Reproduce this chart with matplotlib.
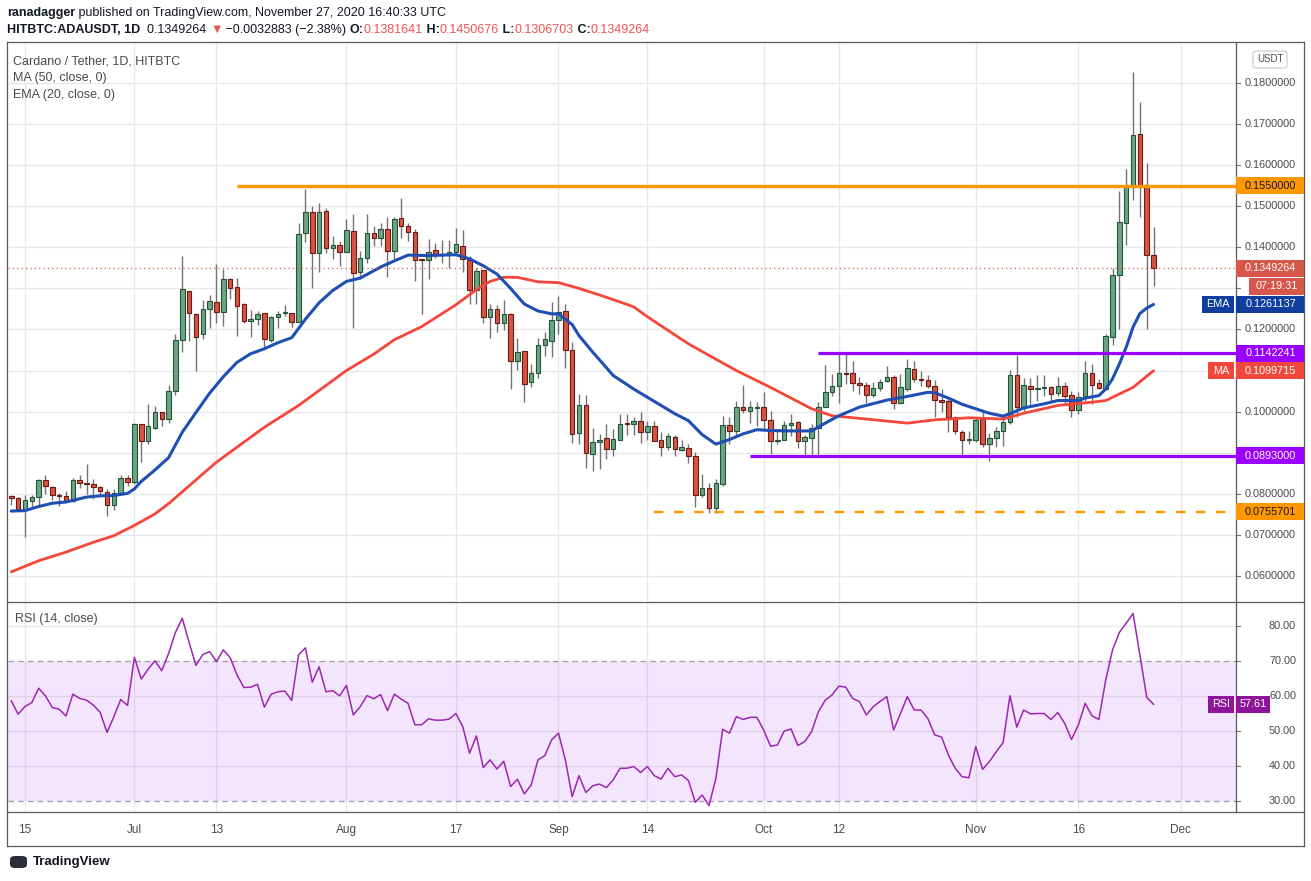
import matplotlib
matplotlib.use("Agg")
import matplotlib.pyplot as plt
import matplotlib.transforms as mtransforms
from matplotlib.patches import Rectangle, FancyBboxPatch
from matplotlib.lines import Line2D
import numpy as np
import pandas as pd

plt.rcParams['font.family'] = ['Liberation Sans', 'DejaVu Sans']

# ---- values: HITBTC ADA/USDT daily, from 13 Jun 2020 ----
start_day = "2020-06-13"

opens = [
    0.0795, 0.0790, 0.0761, 0.0783, 0.0793, 0.0834, 0.0816, 0.0798, 0.0794, 0.0783,
    0.0834, 0.0827, 0.0824, 0.0816, 0.0805, 0.0773, 0.0802, 0.0839, 0.0829, 0.0969,
    0.0929, 0.0960, 0.1000, 0.0983, 0.1050, 0.1175, 0.1294, 0.1238, 0.1189, 0.1250,
    0.1267, 0.1243, 0.1324, 0.1304, 0.1263, 0.1221, 0.1226, 0.1241, 0.1175, 0.1230,
    0.1240, 0.1241, 0.1219, 0.1436, 0.1485, 0.1387, 0.1489, 0.1398, 0.1406, 0.1389,
    0.1440, 0.1340, 0.1374, 0.1435, 0.1422, 0.1445, 0.1391, 0.1472, 0.1452, 0.1437,
    0.1369, 0.1369, 0.1393, 0.1381, 0.1381, 0.1389, 0.1403, 0.1369, 0.1296, 0.1345,
    0.1231, 0.1251, 0.1215, 0.1237, 0.1124, 0.1147, 0.1072, 0.1093, 0.1163, 0.1173,
    0.1224, 0.1246, 0.1149, 0.0948, 0.1017, 0.0897, 0.0927, 0.0937, 0.0910, 0.0932,
    0.0971, 0.0971, 0.0976, 0.0950, 0.0966, 0.0931, 0.0913, 0.0938, 0.0906, 0.0911,
    0.0892, 0.0797, 0.0814, 0.0765, 0.0824, 0.0967, 0.0952, 0.1012, 0.1001, 0.1009,
    0.1012, 0.0980, 0.0928, 0.0931, 0.0968, 0.0975, 0.0929, 0.0936, 0.0960, 0.1012,
    0.1047, 0.1063, 0.1094, 0.1094, 0.1070, 0.1065, 0.1041, 0.1058, 0.1075, 0.1085,
    0.1021, 0.1056, 0.1104, 0.1080, 0.1077, 0.1063, 0.1028, 0.1027, 0.0987, 0.0951,
    0.0930, 0.0930, 0.0982, 0.0921, 0.0936, 0.0953, 0.0975, 0.1089, 0.1008, 0.1063,
    0.1055, 0.1058, 0.1060, 0.1045, 0.1063, 0.1041, 0.1004, 0.1038, 0.1094, 0.1070,
    0.1055, 0.1182, 0.1333, 0.1458, 0.1546, 0.1676, 0.1551, 0.1381641]

highs = [
    0.0797, 0.0791, 0.0798, 0.0798, 0.0837, 0.0845, 0.0818, 0.0802, 0.0808, 0.0839,
    0.0845, 0.0872, 0.0835, 0.0818, 0.0812, 0.0812, 0.0845, 0.0846, 0.0972, 0.0969,
    0.1019, 0.1013, 0.1000, 0.1065, 0.1189, 0.1380, 0.1294, 0.1240, 0.1271, 0.1283,
    0.1359, 0.1348, 0.1326, 0.1326, 0.1265, 0.1248, 0.1245, 0.1241, 0.1233, 0.1244,
    0.1259, 0.1241, 0.1459, 0.1543, 0.1500, 0.1507, 0.1496, 0.1428, 0.1415, 0.1470,
    0.1482, 0.1390, 0.1482, 0.1453, 0.1458, 0.1474, 0.1474, 0.1520, 0.1459, 0.1445,
    0.1369, 0.1420, 0.1411, 0.1419, 0.1419, 0.1447, 0.1441, 0.1380, 0.1350, 0.1345,
    0.1262, 0.1260, 0.1272, 0.1241, 0.1180, 0.1147, 0.1115, 0.1180, 0.1194, 0.1267,
    0.1281, 0.1263, 0.1170, 0.1042, 0.1040, 0.0959, 0.0945, 0.0969, 0.0957, 0.0995,
    0.0995, 0.0987, 0.0999, 0.0978, 0.0978, 0.0950, 0.0947, 0.0944, 0.0931, 0.0921,
    0.0901, 0.0848, 0.0826, 0.0836, 0.0990, 0.0986, 0.1027, 0.1066, 0.1027, 0.1024,
    0.1047, 0.1002, 0.0954, 0.0978, 0.0994, 0.0978, 0.0944, 0.0970, 0.1024, 0.1114,
    0.1092, 0.1141, 0.1142, 0.1123, 0.1084, 0.1072, 0.1072, 0.1080, 0.1110, 0.1090,
    0.1092, 0.1127, 0.1124, 0.1098, 0.1088, 0.1076, 0.1055, 0.1031, 0.0987, 0.0955,
    0.0954, 0.0985, 0.1002, 0.0947, 0.0962, 0.0994, 0.1102, 0.1137, 0.1082, 0.1082,
    0.1090, 0.1088, 0.1063, 0.1084, 0.1072, 0.1051, 0.1049, 0.1124, 0.1116, 0.1080,
    0.1189, 0.1349, 0.1537, 0.1591, 0.1827, 0.1753, 0.1605, 0.1450676]

lows = [
    0.0772, 0.0760, 0.0694, 0.0767, 0.0772, 0.0800, 0.0785, 0.0770, 0.0780, 0.0781,
    0.0815, 0.0800, 0.0788, 0.0796, 0.0746, 0.0761, 0.0802, 0.0819, 0.0824, 0.0877,
    0.0922, 0.0957, 0.0966, 0.0972, 0.1040, 0.1146, 0.1173, 0.1100, 0.1176, 0.1203,
    0.1215, 0.1208, 0.1274, 0.1184, 0.1216, 0.1181, 0.1211, 0.1153, 0.1169, 0.1203,
    0.1233, 0.1206, 0.1219, 0.1413, 0.1300, 0.1340, 0.1385, 0.1372, 0.1355, 0.1389,
    0.1203, 0.1323, 0.1362, 0.1404, 0.1404, 0.1327, 0.1372, 0.1423, 0.1415, 0.1317,
    0.1237, 0.1323, 0.1374, 0.1363, 0.1350, 0.1382, 0.1339, 0.1263, 0.1262, 0.1215,
    0.1180, 0.1194, 0.1198, 0.1054, 0.1102, 0.1024, 0.1060, 0.1081, 0.1135, 0.1132,
    0.1190, 0.1107, 0.0924, 0.0922, 0.0863, 0.0855, 0.0861, 0.0885, 0.0892, 0.0932,
    0.0944, 0.0944, 0.0924, 0.0932, 0.0929, 0.0893, 0.0907, 0.0893, 0.0903, 0.0874,
    0.0769, 0.0791, 0.0754, 0.0754, 0.0820, 0.0921, 0.0941, 0.0996, 0.0972, 0.0966,
    0.0958, 0.0897, 0.0921, 0.0931, 0.0941, 0.0911, 0.0890, 0.0893, 0.0893, 0.1012,
    0.1039, 0.1020, 0.1067, 0.1050, 0.1043, 0.1021, 0.1035, 0.1051, 0.1072, 0.1007,
    0.1019, 0.1050, 0.1072, 0.1063, 0.1058, 0.0988, 0.0998, 0.0950, 0.0946, 0.0889,
    0.0921, 0.0925, 0.0913, 0.0880, 0.0915, 0.0917, 0.0970, 0.0988, 0.0998, 0.1012,
    0.1025, 0.1039, 0.1027, 0.1037, 0.1017, 0.0986, 0.0994, 0.1025, 0.1019, 0.1055,
    0.1053, 0.1162, 0.1200, 0.1406, 0.1514, 0.1475, 0.1200, 0.1306703]

closes = [
    0.0790, 0.0763, 0.0784, 0.0793, 0.0834, 0.0820, 0.0798, 0.0794, 0.0782, 0.0834,
    0.0827, 0.0824, 0.0816, 0.0807, 0.0773, 0.0802, 0.0839, 0.0829, 0.0969, 0.0929,
    0.0964, 0.1000, 0.0983, 0.1050, 0.1175, 0.1298, 0.1240, 0.1181, 0.1251, 0.1270,
    0.1243, 0.1322, 0.1302, 0.1258, 0.1221, 0.1226, 0.1238, 0.1177, 0.1231, 0.1238,
    0.1241, 0.1219, 0.1433, 0.1485, 0.1385, 0.1485, 0.1398, 0.1406, 0.1389, 0.1442,
    0.1337, 0.1374, 0.1435, 0.1422, 0.1445, 0.1391, 0.1469, 0.1451, 0.1437, 0.1369,
    0.1368, 0.1389, 0.1384, 0.1384, 0.1389, 0.1408, 0.1372, 0.1296, 0.1342, 0.1230,
    0.1251, 0.1215, 0.1237, 0.1124, 0.1144, 0.1068, 0.1093, 0.1163, 0.1176, 0.1224,
    0.1243, 0.1149, 0.0946, 0.1017, 0.0900, 0.0927, 0.0932, 0.0910, 0.0934, 0.0971,
    0.0970, 0.0976, 0.0950, 0.0966, 0.0929, 0.0913, 0.0941, 0.0908, 0.0914, 0.0891,
    0.0797, 0.0814, 0.0765, 0.0826, 0.0967, 0.0952, 0.1012, 0.1004, 0.1012, 0.1012,
    0.0980, 0.0928, 0.0931, 0.0967, 0.0972, 0.0928, 0.0938, 0.0960, 0.1012, 0.1049,
    0.1063, 0.1094, 0.1092, 0.1070, 0.1065, 0.1041, 0.1058, 0.1072, 0.1085, 0.1021,
    0.1060, 0.1106, 0.1080, 0.1077, 0.1063, 0.1028, 0.1024, 0.0988, 0.0953, 0.0931,
    0.0931, 0.0980, 0.0921, 0.0936, 0.0954, 0.0975, 0.1089, 0.1011, 0.1065, 0.1055,
    0.1058, 0.1060, 0.1043, 0.1063, 0.1038, 0.1004, 0.1036, 0.1094, 0.1065, 0.1058,
    0.1183, 0.1333, 0.1461, 0.1547, 0.1673, 0.1550, 0.1382147, 0.1349264]

# 50-day MA and 20-day EMA, read at vertices (day offset, value)
ma_day = [0, 4, 8, 12, 15, 18, 21, 23, 30, 37, 42, 49, 53, 56, 60, 65, 68, 70, 72, 74,
          77, 80, 83, 86, 89, 91, 93, 99, 106, 111, 117, 120, 125, 131, 135, 140, 145,
          148, 153, 158, 160, 164, 167]
ma_val = [0.0610, 0.0637, 0.0658, 0.0682, 0.0698, 0.0723, 0.0751, 0.0776, 0.0877, 0.0962,
          0.1015, 0.1100, 0.1140, 0.1175, 0.1207, 0.1260, 0.1297, 0.1317, 0.1327, 0.1327,
          0.1316, 0.1314, 0.1300, 0.1284, 0.1267, 0.1255, 0.1231, 0.1165, 0.1100, 0.1059,
          0.1007, 0.0990, 0.0982, 0.0972, 0.0980, 0.0985, 0.0982, 0.0996, 0.1015, 0.1023,
          0.1027, 0.1059, 0.1099715]

ema_day = [0, 2, 4, 6, 8, 11, 13, 15, 17, 18, 19, 21, 23, 25, 27, 29, 31, 33, 35, 37,
           39, 41, 43, 45, 47, 49, 51, 54, 56, 58, 61, 65, 67, 69, 71, 73, 75, 77, 79, 80,
           82, 83, 85, 88, 91, 93, 95, 97, 99, 101, 103, 105, 107, 109, 111, 114, 117, 119,
           121, 124, 128, 131, 134, 135, 137, 139, 141, 143, 145, 146, 148, 151, 153, 156,
           157, 159, 160, 161, 162, 163, 164, 165, 166, 167]
ema_val = [0.0758, 0.0759, 0.0769, 0.0777, 0.0780, 0.0792, 0.0795, 0.0796, 0.0801, 0.0812,
           0.0830, 0.0858, 0.0888, 0.0950, 0.0998, 0.1045, 0.1085, 0.1120, 0.1141, 0.1153,
           0.1168, 0.1180, 0.1225, 0.1265, 0.1295, 0.1317, 0.1325, 0.1352, 0.1367, 0.1381,
           0.1380, 0.1382, 0.1372, 0.1355, 0.1335, 0.1300, 0.1262, 0.1245, 0.1238, 0.1238,
           0.1212, 0.1185, 0.1145, 0.1088, 0.1055, 0.1035, 0.1015, 0.0995, 0.0978, 0.0944,
           0.0921, 0.0932, 0.0946, 0.0956, 0.0954, 0.0953, 0.0953, 0.0972, 0.0990, 0.1011,
           0.1028, 0.1037, 0.1047, 0.1046, 0.1033, 0.1018, 0.1007, 0.0996, 0.0989, 0.0995,
           0.1009, 0.1019, 0.1027, 0.1027, 0.1033, 0.1039, 0.1055, 0.1080, 0.1116, 0.1157,
           0.1206, 0.1239, 0.1252, 0.1261137]

rsi = [
    58.6, 54.8, 57.0, 58.1, 62.2, 60.0, 56.7, 56.2, 54.3, 60.5,
    59.3, 58.8, 57.4, 55.3, 49.6, 54.1, 59.0, 57.3, 71.0, 64.8,
    67.6, 70.0, 67.2, 72.1, 78.1, 82.1, 75.2, 68.7, 71.8, 72.6,
    69.8, 73.1, 70.9, 66.0, 62.4, 62.5, 63.3, 56.8, 60.5, 61.2,
    61.4, 58.7, 71.7, 73.7, 63.9, 68.3, 61.2, 61.5, 60.0, 63.0,
    54.6, 56.9, 60.1, 59.2, 60.4, 55.8, 60.5, 59.1, 57.9, 51.8,
    51.8, 53.5, 53.1, 53.1, 53.4, 55.0, 51.3, 43.7, 48.6, 39.6,
    41.8, 39.2, 41.4, 34.2, 36.3, 32.1, 34.6, 41.8, 43.0, 47.5,
    49.4, 41.8, 31.3, 37.3, 32.5, 34.4, 34.9, 33.9, 36.1, 39.4,
    39.4, 39.9, 38.2, 39.9, 37.3, 36.3, 39.4, 37.0, 37.5, 35.9,
    29.7, 31.8, 28.8, 36.4, 50.5, 49.4, 54.1, 53.3, 53.9, 53.9,
    50.3, 45.7, 46.0, 50.0, 50.6, 45.9, 47.0, 49.8, 55.5, 58.8,
    60.3, 62.8, 62.5, 59.3, 58.4, 54.6, 56.9, 58.4, 59.8, 50.3,
    55.0, 59.8, 56.0, 56.0, 53.6, 48.9, 48.3, 43.2, 39.4, 37.0,
    36.7, 45.6, 39.1, 41.3, 44.1, 46.7, 60.1, 51.1, 56.0, 54.9,
    55.0, 55.0, 53.3, 55.3, 52.2, 47.6, 51.7, 57.9, 54.3, 53.3,
    64.5, 73.1, 78.1, 80.7, 83.5, 71.7, 59.6, 57.61]

# drawn support / resistance levels: (value, first day)
level_vals = [0.155, 0.1142241, 0.0893, 0.0755701]
level_from = ["2020-07-16", "2020-10-09", "2020-09-29", "2020-09-15"]

tick_days = ["2020-06-15", "2020-07-01", "2020-07-13", "2020-08-01", "2020-08-17",
             "2020-09-01", "2020-09-14", "2020-10-01", "2020-10-12", "2020-11-01",
             "2020-11-16", "2020-12-01"]
tick_text = ["15", "Jul", "13", "Aug", "17", "Sep", "14", "Oct", "12", "Nov", "16", "Dec"]

price_ticks = [0.06, 0.07, 0.08, 0.09, 0.10, 0.11, 0.12, 0.13, 0.14, 0.15, 0.16, 0.17, 0.18]
rsi_ticks = [30, 40, 50, 60, 70, 80]

for arr in (opens, highs, lows, closes, rsi):
    assert len(arr) == 168, len(arr)

o = np.array(opens); h = np.array(highs); l = np.array(lows); c = np.array(closes)
dates = pd.date_range(start_day, periods=len(c), freq="D")
x = np.arange(len(c))
t0 = dates[0]
def day(s):
    return (pd.Timestamp(s) - t0).days

# ---- figure layout in pixels ----
W, H = 1311, 881
fig = plt.figure(figsize=(W / 100, H / 100), dpi=100)
fig.patch.set_facecolor("white")
def box(left, top, right, bottom):
    return [left / W, 1 - bottom / H, (right - left) / W, (bottom - top) / H]
def fx(px): return px / W
def fy(py): return 1 - py / H

AX_R = 1236
ax = fig.add_axes(box(8, 43, AX_R, 601))
ax2 = fig.add_axes(box(8, 602, AX_R, 812), sharex=ax)

grid_c = "#e8e8ea"
txt_c = "#4a4a4a"
for a in (ax, ax2):
    for s in a.spines.values():
        s.set_visible(False)
    a.set_axisbelow(True)
    a.tick_params(length=0, labelleft=False, labelright=False)
    a.set_xticks([day(d) for d in tick_days])
    a.grid(True, color=grid_c, lw=1)

ax.set_xlim(-0.48, 179.05)
ax.set_ylim(0.05390, 0.18974)
ax.set_yticks(price_ticks)
ax.tick_params(labelbottom=False)
ax2.set_ylim(26.95, 86.75)
ax2.set_yticks([40, 50, 60, 80])
ax2.set_xticklabels(tick_text)
ax2.tick_params(axis="x", pad=8.5, labelsize=8.5, labelcolor=txt_c)

# ---- candles ----
up = c >= o
body_lo = np.minimum(o, c)
body_h = np.maximum(np.abs(c - o), 0.00025)
ax.vlines(x, l, h, color="#737375", lw=1, zorder=2)
ax.bar(x[up], body_h[up], bottom=body_lo[up], width=0.66, color="#6ba583",
       edgecolor="#225437", lw=0.8, zorder=3)
ax.bar(x[~up], body_h[~up], bottom=body_lo[~up], width=0.66, color="#d75442",
       edgecolor="#6b1a11", lw=0.8, zorder=3)

ax.plot(ma_day, ma_val, color="#f4463a", lw=2.0, zorder=4, solid_capstyle="round")
ax.plot(ema_day, ema_val, color="#1f4fb4", lw=2.2, zorder=4, solid_capstyle="round")

x_end = ax.get_xlim()[1]
ax.hlines(level_vals[0], day(level_from[0]), x_end, color="#ff9800", lw=2.4, zorder=5)
ax.hlines(level_vals[1], day(level_from[1]), x_end, color="#9900ff", lw=2.3, zorder=5)
ax.hlines(level_vals[2], day(level_from[2]), x_end, color="#9900ff", lw=2.3, zorder=5)
ax.plot([day(level_from[3]), x_end], [level_vals[3]] * 2, color="#ff9800", lw=1.7,
        dashes=(4, 4.5), zorder=5)
ax.axhline(c[-1], color="#e0574a", lw=0.9, ls=(0, (1, 2.5)), zorder=4)

# ---- RSI pane ----
ax2.axhspan(30, 70, color=(0.6, 0.0, 1.0), alpha=0.1, lw=0, zorder=1)
for lv in (30, 70):
    ax2.axhline(lv, color="#a89fae", lw=1, dashes=(4, 3), zorder=1.5)
ax2.plot(x, rsi, color="#9c27b0", lw=1.1, zorder=3)


def ypx(axis, v):
    return H - axis.transData.transform((0, v))[1]


# values that get a coloured tag on the price scale (tick labels under them are hidden)
tag_values = [level_vals[0], c[-1], ema_val[-1], level_vals[1], ma_val[-1],
              level_vals[2], level_vals[3]]
tag_rows = [ypx(ax, v) for v in tag_values] + [ypx(ax, c[-1]) + 18]

# ---- right price scale ----
lab_x = (1296 - 8) / (AX_R - 8)
tr1 = mtransforms.blended_transform_factory(ax.transAxes, ax.transData)
for v in price_ticks:
    ax.plot([1.0, 1.0 + 4 / (AX_R - 8)], [v, v], transform=tr1, color="#777",
            lw=0.8, clip_on=False)
    if min(abs(ypx(ax, v) - r) for r in tag_rows) < 12:
        continue
    ax.text(lab_x, v, f"{v:.7f}", transform=tr1, ha="right", va="center",
            fontsize=7.8, color=txt_c, clip_on=False)
tr2 = mtransforms.blended_transform_factory(ax2.transAxes, ax2.transData)
for v in rsi_ticks:
    ax2.text(lab_x, v, f"{v:.2f}", transform=tr2, ha="right", va="center",
             fontsize=7.8, color=txt_c, clip_on=False)
    ax2.plot([1.0, 1.0 + 4 / (AX_R - 8)], [v, v], transform=tr2, color="#777",
             lw=0.8, clip_on=False)


def tag(axis, v, text, bg, fg, x0=AX_R, x1=1304, dy=0, name=None, name_x0=None,
        center=False):
    yc = ypx(axis, v) + dy
    fig.add_artist(Rectangle((fx(x0), fy(yc + 8.5)), (x1 - x0) / W, 17 / H,
                             transform=fig.transFigure, facecolor=bg, edgecolor="none",
                             zorder=5))
    if center:
        fig.text(fx((x0 + x1) / 2), fy(yc), text, ha="center", va="center", color=fg,
                 fontsize=7.8, zorder=6)
    else:
        fig.text(fx(1296), fy(yc), text, ha="right", va="center", color=fg,
                 fontsize=7.8, zorder=6)
    if name:
        fig.add_artist(Rectangle((fx(name_x0), fy(yc + 8.5)), (AX_R - 2 - name_x0) / W,
                                 17 / H, transform=fig.transFigure, facecolor=bg,
                                 edgecolor="none", zorder=5))
        fig.text(fx((name_x0 + AX_R - 2) / 2), fy(yc), name, ha="center", va="center",
                 color=fg, fontsize=7.8, zorder=6)


tag(ax, level_vals[0], f"{level_vals[0]:.7f}", "#ff9800", "#131722")
tag(ax, c[-1], f"{c[-1]:.7f}", "#d7574a", "white")
tag(ax, c[-1], "07:19:31", "#d7574a", "white", x0=1249, dy=18, center=True)
tag(ax, ema_val[-1], f"{ema_val[-1]:.7f}", "#0f3e9e", "white", name="EMA", name_x0=1202)
tag(ax, level_vals[1], f"{level_vals[1]:.7f}", "#9900ff", "white")
tag(ax, ma_val[-1], f"{ma_val[-1]:.7f}", "#f2473b", "white", name="MA", name_x0=1208)
tag(ax, level_vals[2], f"{level_vals[2]:.7f}", "#9900ff", "white")
tag(ax, level_vals[3], f"{level_vals[3]:.7f}", "#ff9800", "#131722")
tag(ax2, rsi[-1], f"{rsi[-1]:.2f}", "#8e1599", "white", x1=1270, name="RSI",
    name_x0=1208, center=True)

# USDT unit box
fig.add_artist(FancyBboxPatch((fx(1253), fy(68)), 34 / W, 17 / H,
                              boxstyle="round,pad=0,rounding_size=0.003",
                              transform=fig.transFigure, facecolor="white",
                              edgecolor="#c9c9c9", lw=0.8, zorder=5))
fig.text(fx(1270), fy(59.5), "USDT", ha="center", va="center", fontsize=7,
         color=txt_c, zorder=6)

# ---- frame ----
frame_c = "#5a5a5a"
for xs, ys in [((7, 1304), (42, 42)), ((7, 7), (42, 846)), ((1304, 1304), (42, 846)),
               ((7, 1304), (846, 846)), ((7, 1304), (601.5, 601.5)),
               ((7, 1304), (812, 812)), ((AX_R, AX_R), (42, 812))]:
    fig.add_artist(Line2D([fx(xs[0]), fx(xs[1])], [fy(ys[0]), fy(ys[1])],
                          transform=fig.transFigure, color=frame_c, lw=0.9, zorder=4))

# ---- texts ----
renderer = fig.canvas.get_renderer()


def text_run(xp, yp, parts, size=9):
    for s, col, wt in parts:
        t = fig.text(fx(xp), fy(yp), s, fontsize=size, color=col, fontweight=wt,
                     va="center", ha="left")
        xp += t.get_window_extent(renderer).width


dark = "#131722"
red = "#ef5350"
text_run(7, 13, [("ranadagger", dark, "bold"),
                 (" published on TradingView.com, November 27, 2020 16:40:33 UTC", dark,
                  "normal")])
text_run(7, 30, [("HITBTC:ADAUSDT, 1D", dark, "bold"),
                 ("  0.1349264 ", dark, "normal"), ("▼", red, "normal"),
                 (" \u22120.0032883 (\u22122.38%) ", dark, "normal"),
                 ("O:", dark, "bold"), ("0.1381641", red, "normal"),
                 (" H:", dark, "bold"), ("0.1450676", red, "normal"),
                 (" L:", dark, "bold"), ("0.1306703", red, "normal"),
                 (" C:", dark, "bold"), ("0.1349264", red, "normal")])

fig.text(fx(13), fy(61), "Cardano / Tether, 1D, HITBTC", fontsize=9, color=txt_c,
         va="center")
fig.text(fx(13), fy(78), "MA (50, close, 0)", fontsize=9, color=txt_c, va="center")
fig.text(fx(13), fy(95), "EMA (20, close, 0)", fontsize=9, color=txt_c, va="center")
fig.text(fx(15), fy(619), "RSI (14, close)", fontsize=9, color=txt_c, va="center")

# footer logo
fig.add_artist(FancyBboxPatch((fx(10), fy(868)), 17 / W, 12 / H,
                              boxstyle="round,pad=0,rounding_size=0.004",
                              transform=fig.transFigure, facecolor="#2a2e39",
                              edgecolor="none"))
fig.text(fx(33), fy(862), "TradingView", fontsize=9.5, color=dark, va="center",
         fontweight="bold")

fig.savefig("out.png", dpi=100)
